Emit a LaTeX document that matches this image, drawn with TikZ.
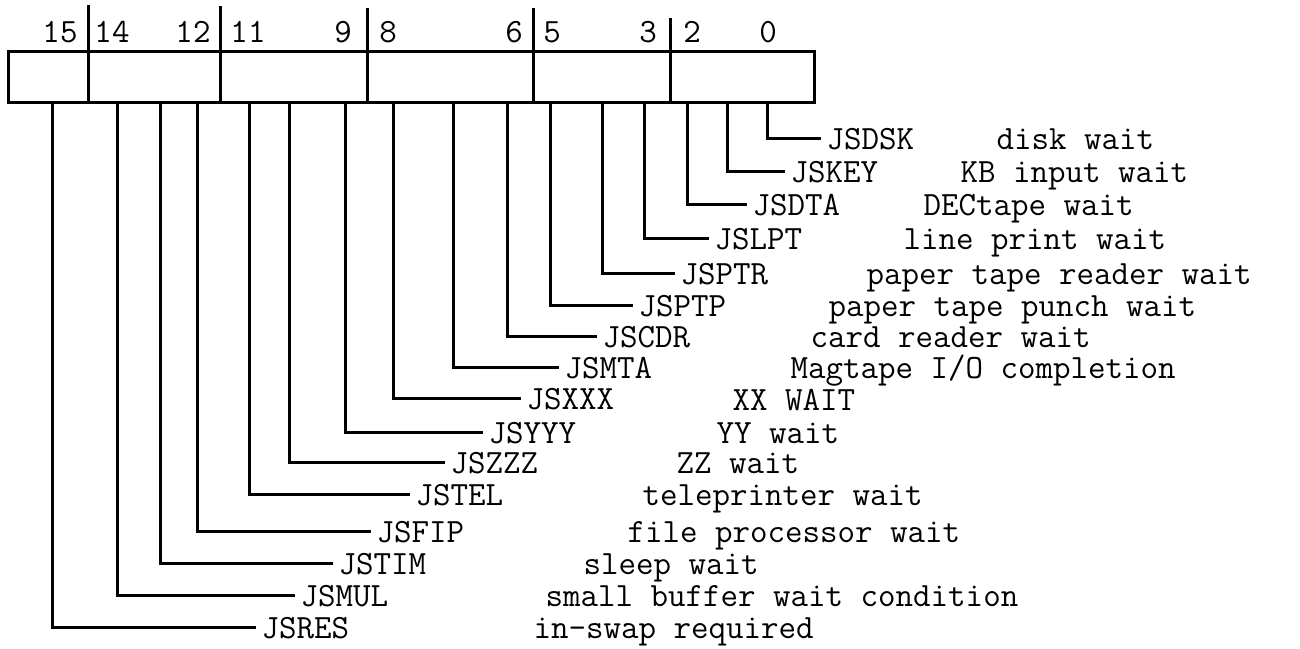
\documentclass[tikz,border=0pt]{standalone}
\begin{document}
\begin{tikzpicture}[x=1pt,y=-1pt,line width=3pt,
  txt/.style={anchor=base west,inner sep=0pt,font=\ttfamily\fontsize{34}{40}\selectfont},
  bitnum/.style={anchor=base,inner sep=0pt,font=\ttfamily\fontsize{34}{40}\selectfont},
  conn/.style={line width=3pt}]
\useasboundingbox (0,0) rectangle (1300,648);
% register box
\draw (8,51) rectangle (814,102);
% field dividers
\draw (88,5) -- (88,102);
\draw (220,6) -- (220,102);
\draw (367,8) -- (367,102);
\draw (533,8) -- (533,102);
\draw (670,18) -- (670,102);
% bit numbers
\node[bitnum] (n15) at (60,42) {15};
\node[bitnum] (n14) at (112,42) {14};
\node[bitnum] (n12) at (193,42) {12};
\node[bitnum] (n11) at (248,42) {11};
\node[bitnum] (n9) at (343,42) {9};
\node[bitnum] (n8) at (388,42) {8};
\node[bitnum] (n6) at (514,42) {6};
\node[bitnum] (n5) at (552,42) {5};
\node[bitnum] (n3) at (648,42) {3};
\node[bitnum] (n2) at (692,42) {2};
\node[bitnum] (n0) at (768,42) {0};
% bit tap coordinates on the box bottom
\coordinate (b0) at (767,102);
\coordinate (b1) at (727,102);
\coordinate (b2) at (687,102);
\coordinate (b3) at (644,102);
\coordinate (b4) at (602,102);
\coordinate (b5) at (550,102);
\coordinate (b6) at (507,102);
\coordinate (b7) at (453,102);
\coordinate (b8) at (393,102);
\coordinate (b9) at (345,102);
\coordinate (b10) at (289,102);
\coordinate (b11) at (249,102);
\coordinate (b12) at (197,102);
\coordinate (b13) at (160,102);
\coordinate (b14) at (117,102);
\coordinate (b15) at (52,102);
% labels
\node[txt] (l0) at (825,149) {JSDSK};
\node[txt] (l1) at (789,182) {JSKEY};
\node[txt] (l2) at (751,215) {JSDTA};
\node[txt] (l3) at (713,249) {JSLPT};
\node[txt] (l4) at (679,284) {JSPTR};
\node[txt] (l5) at (637,316) {JSPTP};
\node[txt] (l6) at (601,347) {JSCDR};
\node[txt] (l7) at (563,378) {JSMTA};
\node[txt] (l8) at (525,409) {JSXXX};
\node[txt] (l9) at (487,443) {JSYYY};
\node[txt] (l10) at (449,473) {JSZZZ};
\node[txt] (l11) at (414,505) {JSTEL};
\node[txt] (l12) at (375,542) {JSFIP};
\node[txt] (l13) at (337,574) {JSTIM};
\node[txt] (l14) at (299,606) {JSMUL};
\node[txt] (l15) at (260,638) {JSRES};
% descriptions
\node[txt] (d0) at (995,149) {disk wait};
\node[txt] (d1) at (959,182) {KB input wait};
\node[txt] (d2) at (922,215) {DECtape wait};
\node[txt] (d3) at (902,249) {line print wait};
\node[txt] (d4) at (865,284) {paper tape reader wait};
\node[txt] (d5) at (827,316) {paper tape punch wait};
\node[txt] (d6) at (809,347) {card reader wait};
\node[txt] (d7) at (789,378) {Magtape I/O completion};
\node[txt] (d8) at (731,410) {XX WAIT};
\node[txt] (d9) at (715,443) {YY wait};
\node[txt] (d10) at (675,473) {ZZ wait};
\node[txt] (d11) at (641,505) {teleprinter wait};
\node[txt] (d12) at (626,542) {file processor wait};
\node[txt] (d13) at (582,574) {sleep wait};
\node[txt] (d14) at (544,606) {small buffer wait condition};
\node[txt] (d15) at (532,638) {in-swap required};
% connectors
\draw[conn] (b0) |- ([xshift=-4pt,yshift=11pt]l0.base west);
\draw[conn] (b1) |- ([xshift=-4pt,yshift=11pt]l1.base west);
\draw[conn] (b2) |- ([xshift=-4pt,yshift=11pt]l2.base west);
\draw[conn] (b3) |- ([xshift=-4pt,yshift=11pt]l3.base west);
\draw[conn] (b4) |- ([xshift=-4pt,yshift=11pt]l4.base west);
\draw[conn] (b5) |- ([xshift=-4pt,yshift=11pt]l5.base west);
\draw[conn] (b6) |- ([xshift=-4pt,yshift=11pt]l6.base west);
\draw[conn] (b7) |- ([xshift=-4pt,yshift=11pt]l7.base west);
\draw[conn] (b8) |- ([xshift=-4pt,yshift=11pt]l8.base west);
\draw[conn] (b9) |- ([xshift=-4pt,yshift=11pt]l9.base west);
\draw[conn] (b10) |- ([xshift=-4pt,yshift=11pt]l10.base west);
\draw[conn] (b11) |- ([xshift=-4pt,yshift=11pt]l11.base west);
\draw[conn] (b12) |- ([xshift=-4pt,yshift=11pt]l12.base west);
\draw[conn] (b13) |- ([xshift=-4pt,yshift=11pt]l13.base west);
\draw[conn] (b14) |- ([xshift=-4pt,yshift=11pt]l14.base west);
\draw[conn] (b15) |- ([xshift=-4pt,yshift=11pt]l15.base west);
\end{tikzpicture}
\end{document}
